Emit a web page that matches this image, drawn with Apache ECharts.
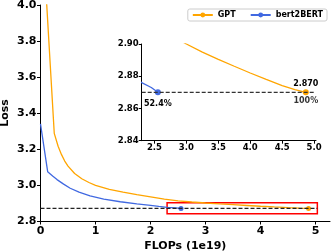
<!DOCTYPE html>
<html><head><meta charset="utf-8">
<script src="https://cdn.jsdelivr.net/npm/echarts@6/dist/echarts.min.js"></script>
<style>html,body{margin:0;padding:0;background:#fff}#c{width:332px;height:252px}</style>
</head><body><div id="c"></div>
<script>
const seriesNames = ['GPT', 'bert2BERT'];
const gptFlops = [0.10, 0.25, 0.32, 0.38, 0.44, 0.50, 0.62, 0.75, 0.88, 1.00, 1.25, 1.50, 1.75, 2.00, 2.25, 2.50, 2.75, 3.00, 3.25, 3.50, 3.75, 4.00, 4.25, 4.50, 4.70, 4.87];
const gptLoss  = [4.07, 3.287, 3.215, 3.17, 3.133, 3.105, 3.064, 3.035, 3.014, 2.998, 2.976, 2.960, 2.946, 2.934, 2.921, 2.912, 2.9055, 2.900, 2.895, 2.8905, 2.8862, 2.882, 2.878, 2.8742, 2.8717, 2.870];
const bertFlops = [0.00, 0.13, 0.22, 0.30, 0.42, 0.54, 0.70, 0.90, 1.15, 1.45, 1.75, 2.00, 2.15, 2.30, 2.45, 2.553];
const bertLoss  = [3.34, 3.074, 3.050, 3.030, 3.005, 2.982, 2.960, 2.939, 2.922, 2.907, 2.895, 2.887, 2.881, 2.876, 2.873, 2.870];
const targetLoss = 2.870;
const mainXTicks = [0, 1, 2, 3, 4, 5];
const insetXTicks = [2.5, 3.0, 3.5, 4.0, 4.5, 5.0];
const zoomBox = [[2.3, 2.84], [5.03, 2.902]];
const gptLabelTop = '2.870', gptLabelBottom = '100%', bertLabelBottom = '52.4%';

const F = 'DejaVu Sans';
const colors = ['#FFA500', '#4169E1'];

function pts(xs, ys) {
  return xs.map((x, i) => i === xs.length - 1 ? {value: [x, ys[i]]} : {value: [x, ys[i]], symbol: 'none'});
}
function axisCommon() {
  return {
    axisLine: {show: true, lineStyle: {color: '#000', width: 1}},
    axisTick: {show: true, length: 3.5, lineStyle: {color: '#000', width: 1}},
    splitLine: {show: false},
  };
}
const opt = {
  animation: false,
  textStyle: {fontFamily: F},
  legend: {
    data: seriesNames, right: 5, top: 9, itemWidth: 20, itemHeight: 6, itemGap: 14,
    borderColor: '#ccc', borderWidth: 1, borderRadius: 2, padding: [2, 4, 2, 4],
    textStyle: {fontFamily: F, fontWeight: 'bold', fontSize: 8, color: '#000'}
  },
  grid: [
    {left: 40.5, top: 5, right: 2, bottom: 31, containLabel: false, outerBoundsMode: 'none'},
    {left: 141.7, top: 44, right: 16, bottom: 111.3, containLabel: false, outerBoundsMode: 'none'}
  ],
  xAxis: [
    Object.assign(axisCommon(), {
      type: 'value', gridIndex: 0, min: 0, max: 5.26,
      name: 'FLOPs (1e19)', nameLocation: 'middle', nameGap: 20, nameMoveOverlap: false,
      nameTextStyle: {fontFamily: F, fontWeight: 'bold', fontSize: 11, color: '#000'},
      axisTick: {show: true, length: 3.5, lineStyle: {color: '#000'}, customValues: mainXTicks},
      axisLabel: {customValues: mainXTicks, fontFamily: F, fontWeight: 'bold', fontSize: 11, color: '#000', margin: 5}
    }),
    Object.assign(axisCommon(), {
      type: 'value', gridIndex: 1, min: 2.3, max: 5.03,
      axisTick: {show: true, length: 3, lineStyle: {color: '#000'}, customValues: insetXTicks},
      axisLabel: {customValues: insetXTicks, formatter: v => v.toFixed(1), fontFamily: F, fontWeight: 'bold', fontSize: 8.5, color: '#000', margin: 3}
    })
  ],
  yAxis: [
    Object.assign(axisCommon(), {
      type: 'value', gridIndex: 0, min: 2.8, max: 4.0, interval: 0.2,
      name: 'Loss', nameLocation: 'middle', nameGap: 30, nameRotate: 90, nameMoveOverlap: false,
      nameTextStyle: {fontFamily: F, fontWeight: 'bold', fontSize: 11, color: '#000'},
      axisLabel: {formatter: v => v.toFixed(1), fontFamily: F, fontWeight: 'bold', fontSize: 11, color: '#000', margin: 4}
    }),
    Object.assign(axisCommon(), {
      type: 'value', gridIndex: 1, min: 2.84, max: 2.90, interval: 0.02,
      axisTick: {show: true, length: 3, lineStyle: {color: '#000'}},
      axisLabel: {formatter: v => v.toFixed(2), fontFamily: F, fontWeight: 'bold', fontSize: 8.5, color: '#000', margin: 3}
    })
  ],
  series: [
    {name: 'GPT', type: 'line', xAxisIndex: 0, yAxisIndex: 0, data: pts(gptFlops, gptLoss),
     color: colors[0], symbol: 'circle', symbolSize: 5, lineStyle: {width: 1.3}, z: 3},
    {name: 'bert2BERT', type: 'line', xAxisIndex: 0, yAxisIndex: 0, data: pts(bertFlops, bertLoss),
     color: colors[1], symbol: 'circle', symbolSize: 5, lineStyle: {width: 1.3}, z: 3},
    {type: 'line', xAxisIndex: 0, yAxisIndex: 0, data: [[0, targetLoss], [5.03, targetLoss]],
     symbol: 'none', lineStyle: {color: '#222', width: 1.2, type: [4, 2]}, z: 4, silent: true,
     markArea: {silent: true, itemStyle: {color: 'rgba(0,0,0,0)', borderColor: '#ff0000', borderWidth: 1.5},
       data: [[{coord: zoomBox[0]}, {coord: zoomBox[1]}]]}},
    {name: 'GPT', type: 'line', xAxisIndex: 1, yAxisIndex: 1,
     data: pts(gptFlops, gptLoss).map((d, i, a) => i === a.length - 1 ? Object.assign({}, d, {
       label: {show: true, position: 'top', distance: 1, formatter: gptLabelTop, fontFamily: F, fontWeight: 'bold', fontSize: 8, color: '#000'}}) : d),
     color: colors[0], symbol: 'circle', symbolSize: 6, lineStyle: {width: 1.3}, z: 3},
    {name: 'bert2BERT', type: 'line', xAxisIndex: 1, yAxisIndex: 1,
     data: pts(bertFlops, bertLoss).map((d, i, a) => i === a.length - 1 ? Object.assign({}, d, {
       label: {show: true, position: 'bottom', distance: 5, formatter: bertLabelBottom, fontFamily: F, fontWeight: 'bold', fontSize: 8, color: '#000'}}) : d),
     color: colors[1], symbol: 'circle', symbolSize: 6, lineStyle: {width: 1.3}, z: 3},
    {type: 'line', xAxisIndex: 1, yAxisIndex: 1, data: [[2.3, targetLoss], [5.0, targetLoss]],
     symbol: 'none', lineStyle: {color: '#333', width: 1.2, type: [4, 2]}, z: 4, silent: true},
    {type: 'scatter', xAxisIndex: 1, yAxisIndex: 1, data: [[gptFlops[gptFlops.length - 1], gptLoss[gptLoss.length - 1]]],
     symbolSize: 0, silent: true,
     label: {show: true, position: 'bottom', distance: 5, formatter: gptLabelBottom, fontFamily: F, fontWeight: 'bold', fontSize: 8, color: '#000'}}
  ]
};
echarts.init(document.getElementById('c')).setOption(opt);
</script></body></html>
